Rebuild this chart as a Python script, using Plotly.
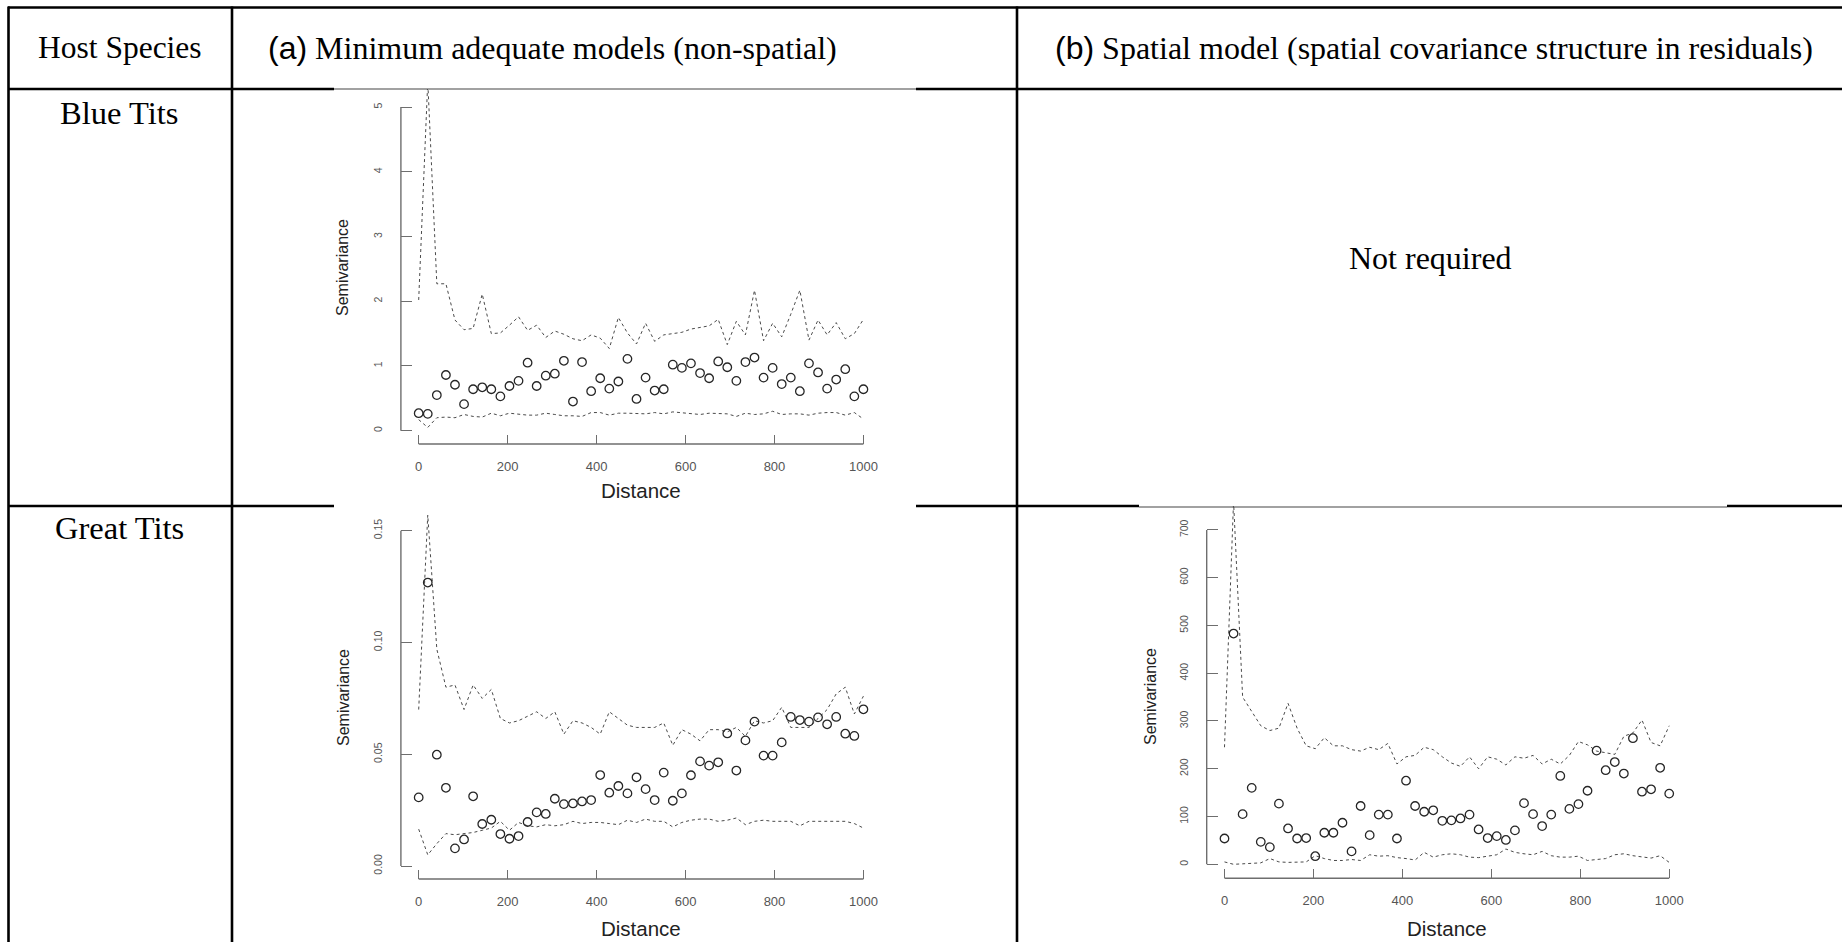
import plotly.graph_objects as go

W, H = 1842, 942

# ---------------- data ----------------
distance = [0, 20.4, 40.8, 61.2, 81.6, 102.0, 122.4, 142.9, 163.3, 183.7,
            204.1, 224.5, 244.9, 265.3, 285.7, 306.1, 326.5, 346.9, 367.3, 387.8,
            408.2, 428.6, 449.0, 469.4, 489.8, 510.2, 530.6, 551.0, 571.4, 591.8,
            612.2, 632.7, 653.1, 673.5, 693.9, 714.3, 734.7, 755.1, 775.5, 795.9,
            816.3, 836.7, 857.1, 877.6, 898.0, 918.4, 938.8, 959.2, 979.6, 1000.0]

blue_a_points = [0.27, 0.26, 0.55, 0.86, 0.71, 0.41, 0.64, 0.67, 0.64, 0.53,
                 0.69, 0.77, 1.05, 0.69, 0.85, 0.88, 1.08, 0.45, 1.06, 0.61,
                 0.81, 0.65, 0.76, 1.11, 0.49, 0.82, 0.62, 0.64, 1.02, 0.97,
                 1.04, 0.89, 0.81, 1.07, 0.98, 0.77, 1.06, 1.13, 0.82, 0.97,
                 0.72, 0.82, 0.61, 1.04, 0.90, 0.65, 0.79, 0.95, 0.53, 0.64]
blue_a_upper = [2.02, 5.4, 2.27, 2.27, 1.71, 1.56, 1.58, 2.11, 1.50, 1.51,
                1.63, 1.76, 1.55, 1.63, 1.44, 1.54, 1.49, 1.42, 1.39, 1.48,
                1.43, 1.27, 1.75, 1.51, 1.34, 1.66, 1.38, 1.48, 1.50, 1.52,
                1.57, 1.60, 1.62, 1.72, 1.33, 1.69, 1.48, 2.17, 1.39, 1.66,
                1.45, 1.80, 2.17, 1.40, 1.71, 1.48, 1.67, 1.42, 1.50, 1.72]
blue_a_lower = [0.17, 0.05, 0.20, 0.21, 0.20, 0.25, 0.22, 0.21, 0.27, 0.23,
                0.27, 0.25, 0.24, 0.24, 0.27, 0.25, 0.23, 0.23, 0.22, 0.28,
                0.28, 0.24, 0.27, 0.27, 0.26, 0.26, 0.28, 0.26, 0.29, 0.28,
                0.27, 0.25, 0.27, 0.27, 0.26, 0.22, 0.27, 0.25, 0.26, 0.30,
                0.25, 0.26, 0.26, 0.24, 0.27, 0.28, 0.28, 0.24, 0.28, 0.18]

great_a_points = [0.0307, 0.1268, 0.0498, 0.0350, 0.0079, 0.0119, 0.0312, 0.0188, 0.0207, 0.0143,
                  0.0122, 0.0134, 0.0197, 0.0240, 0.0233, 0.0301, 0.0277, 0.0280, 0.0289, 0.0295,
                  0.0407, 0.0328, 0.0358, 0.0325, 0.0397, 0.0344, 0.0295, 0.0418, 0.0292, 0.0325,
                  0.0406, 0.0468, 0.0449, 0.0464, 0.0593, 0.0427, 0.0562, 0.0646, 0.0494, 0.0494,
                  0.0553, 0.0667, 0.0653, 0.0646, 0.0665, 0.0634, 0.0667, 0.0592, 0.0582, 0.0701]
great_a_upper = [0.070, 0.157, 0.097, 0.080, 0.081, 0.070, 0.081, 0.075, 0.079, 0.066,
                 0.064, 0.065, 0.067, 0.069, 0.066, 0.069, 0.059, 0.065, 0.064, 0.062,
                 0.059, 0.069, 0.066, 0.063, 0.062, 0.062, 0.062, 0.064, 0.054, 0.061,
                 0.059, 0.056, 0.061, 0.061, 0.060, 0.062, 0.058, 0.065, 0.064, 0.065,
                 0.071, 0.062, 0.062, 0.062, 0.066, 0.070, 0.077, 0.080, 0.068, 0.076]
great_a_lower = [0.0165, 0.005, 0.010, 0.0145, 0.014, 0.0145, 0.015, 0.016, 0.017, 0.020,
                 0.016, 0.0195, 0.018, 0.0175, 0.0185, 0.018, 0.0185, 0.020, 0.019, 0.0195,
                 0.0195, 0.019, 0.0185, 0.0205, 0.0195, 0.021, 0.020, 0.020, 0.0175, 0.0195,
                 0.0205, 0.021, 0.021, 0.020, 0.0205, 0.0215, 0.0185, 0.020, 0.0205, 0.020,
                 0.020, 0.020, 0.018, 0.020, 0.020, 0.020, 0.020, 0.020, 0.019, 0.017]

great_b_points = [54, 483, 105, 160, 47, 36, 127, 75, 54, 55,
                  17, 66, 66, 87, 27, 122, 61, 104, 104, 54,
                  175, 122, 110, 113, 91, 92, 96, 104, 73, 55,
                  59, 51, 71, 128, 105, 80, 104, 185, 116, 126,
                  154, 238, 197, 214, 190, 264, 152, 157, 202, 148]
great_b_upper = [245, 760, 350, 320, 290, 280, 285, 337, 285, 248,
                 242, 265, 248, 248, 240, 237, 245, 240, 253, 210,
                 225, 228, 245, 240, 225, 212, 205, 225, 200, 225,
                 220, 208, 225, 222, 228, 210, 220, 210, 228, 257,
                 250, 237, 233, 230, 268, 275, 302, 255, 248, 290]
great_b_lower = [5, 0, 1, 2, 3, 12, 5, 4, 4, 5,
                 18, 12, 8, 8, 10, 8, 20, 17, 18, 14,
                 12, 9, 25, 15, 20, 22, 20, 15, 14, 17,
                 20, 32, 25, 22, 20, 27, 18, 15, 15, 17,
                 8, 10, 12, 20, 22, 18, 16, 13, 18, 4]

x_ticks = [0, 200, 400, 600, 800, 1000]
blue_a_yticks = [0, 1, 2, 3, 4, 5]
great_a_yticks = [0.0, 0.05, 0.10, 0.15]
great_a_yticktext = ["0.00", "0.05", "0.10", "0.15"]
great_b_yticks = [0, 100, 200, 300, 400, 500, 600, 700]

header_texts = ["Host Species",
                "<span style='font-family:Liberation Sans, Arial, sans-serif'>(a)</span> Minimum adequate models (non-spatial)",
                "<span style='font-family:Liberation Sans, Arial, sans-serif'>(b)</span> Spatial model (spatial covariance structure in residuals)"]
row_labels = ["Blue Tits", "Great Tits"]
not_required = "Not required"


def px(x):
    return x / W


def py(y):
    return 1 - y / H


SERIF = "Liberation Serif, Times New Roman, serif"
SANS = "Liberation Sans, Arial, sans-serif"
PT_COLOR = "#262626"
ENV_COLOR = "#4a4a4a"
AX_COLOR = "#6e6e6e"
LBL_COLOR = "#555555"

fig = go.Figure()

panels = [
    ("x", "y", blue_a_points, blue_a_upper, blue_a_lower),
    ("x2", "y2", great_a_points, great_a_upper, great_a_lower),
    ("x3", "y3", great_b_points, great_b_upper, great_b_lower),
]
for xa, ya, pts, up, lo in panels:
    for env in (up, lo):
        fig.add_trace(go.Scatter(x=distance, y=env, mode="lines", xaxis=xa, yaxis=ya,
                                 line=dict(color=ENV_COLOR, width=1, dash="dot"),
                                 showlegend=False, hoverinfo="skip"))
    fig.add_trace(go.Scatter(x=distance, y=pts, mode="markers", xaxis=xa, yaxis=ya,
                             marker=dict(symbol="circle-open", size=8.5, color=PT_COLOR,
                                         line=dict(width=1.3, color=PT_COLOR)),
                             showlegend=False, cliponaxis=True))

xcommon = dict(range=[-40, 1040], tickvals=x_ticks, ticks="inside", ticklen=9, tickwidth=1.4,
               tickcolor=AX_COLOR, showline=False, showgrid=False, zeroline=False,
               tickfont=dict(family=SANS, size=13, color=LBL_COLOR), ticklabelstandoff=13)
ycommon = dict(ticks="inside", ticklen=11, tickwidth=1.4, tickcolor=AX_COLOR, showline=False,
               showgrid=False, zeroline=False, tickangle=-90,
               tickfont=dict(family=SANS, size=10.5, color=LBL_COLOR), ticklabelstandoff=16)

# pixel geometry of the three plots
d1x = [px(400.9), px(881.2)]
d3x = [px(1206.7), px(1687.0)]
fig.update_layout(
    xaxis=dict(domain=d1x, anchor="y", **xcommon),
    yaxis=dict(domain=[py(444), py(89)], anchor="x", range=[-0.206, 5.28],
               tickvals=blue_a_yticks, **ycommon),
    xaxis2=dict(domain=d1x, anchor="y2", **xcommon),
    yaxis2=dict(domain=[py(879), py(507)], anchor="x2", range=[-0.0058, 0.1606],
                tickvals=great_a_yticks, ticktext=great_a_yticktext, **ycommon),
    xaxis3=dict(domain=d3x, anchor="y3", **xcommon),
    yaxis3=dict(domain=[py(878.3), py(506)], anchor="x3", range=[-29.3, 750],
                tickvals=great_b_yticks, **ycommon),
)

shapes = []
# R-style axis lines spanning only the tick range
for xa, ya, yt in (("x", "y", blue_a_yticks), ("x2", "y2", great_a_yticks), ("x3", "y3", great_b_yticks)):
    shapes.append(dict(type="line", xref=xa, yref=ya + " domain", x0=x_ticks[0], x1=x_ticks[-1],
                       y0=0, y1=0, line=dict(color=AX_COLOR, width=1.4)))
    shapes.append(dict(type="line", xref=xa + " domain", yref=ya, x0=0, x1=0,
                       y0=yt[0], y1=yt[-1], line=dict(color=AX_COLOR, width=1.4)))


def hline(x0, x1, y, w=2.6, c="black"):
    shapes.append(dict(type="line", xref="paper", yref="paper", x0=px(x0), x1=px(x1),
                       y0=py(y), y1=py(y), line=dict(color=c, width=w)))


def vline(x, y0, y1, w=2.6, c="black"):
    shapes.append(dict(type="line", xref="paper", yref="paper", x0=px(x), x1=px(x),
                       y0=py(y0), y1=py(y1), line=dict(color=c, width=w)))


# table rules
hline(8, 1842, 7.5)
hline(8, 334, 89)
hline(334, 916, 89, w=1.2, c="#444")
hline(916, 1842, 89)
hline(8, 334, 506)
hline(916, 1139, 506)
hline(1139, 1727, 507, w=1.2, c="#444")
hline(1727, 1842, 506)
vline(8.5, 6.5, 942)
vline(232, 6.5, 942)
vline(1017, 6.5, 942)

ann = []


def text(x, y, s, size, family=SERIF, color="black", xanchor="center", angle=0):
    ann.append(dict(x=px(x), y=py(y), xref="paper", yref="paper", text=s, showarrow=False,
                    xanchor=xanchor, yanchor="middle", textangle=angle,
                    font=dict(family=family, size=size, color=color)))


text(120, 48, header_texts[0], 31.5)
text(266, 48, header_texts[1], 32, xanchor="left")
text(1053, 48, header_texts[2], 32, xanchor="left")
text(119, 113, row_labels[0], 32.5)
text(119, 528, row_labels[1], 32.5)
text(1430, 258, not_required, 32)

# axis titles
text(641, 490, "Distance", 20.5, family=SANS, color="#222")
text(641, 928, "Distance", 20.5, family=SANS, color="#222")
text(1447, 928, "Distance", 20.5, family=SANS, color="#222")
text(343, 268, "Semivariance", 16, family=SANS, color="#222", angle=-90)
text(343, 698, "Semivariance", 16, family=SANS, color="#222", angle=-90)
text(1150, 697, "Semivariance", 16, family=SANS, color="#222", angle=-90)

fig.update_layout(width=W, height=H, margin=dict(l=0, r=0, t=0, b=0, pad=0),
                  paper_bgcolor="white", plot_bgcolor="rgba(0,0,0,0)",
                  shapes=shapes, annotations=ann, showlegend=False)

fig.write_html("out.html", config={"displayModeBar": False},
               post_script="document.body.style.margin='0px';document.body.style.padding='0px';"
                           "document.body.style.overflow='hidden';")
